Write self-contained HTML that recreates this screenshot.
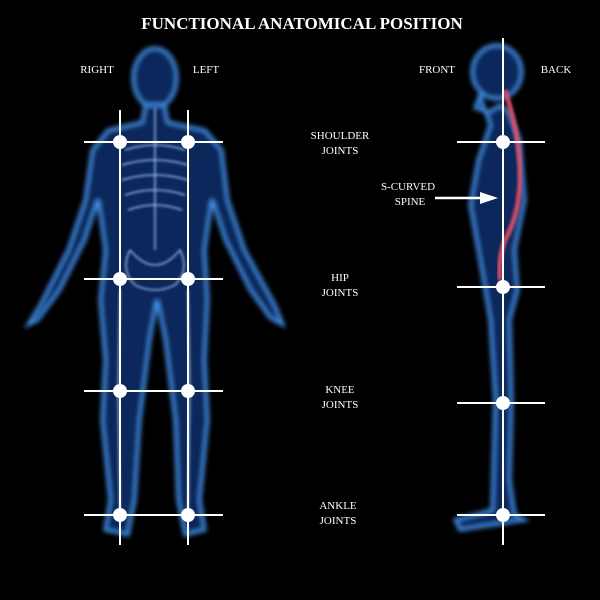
<!DOCTYPE html>
<html><head><style>
html,body{margin:0;padding:0;background:#000;}
svg{display:block}
text{font-family:"Liberation Serif",serif;fill:#fff;}
</style></head><body>
<svg width="600" height="600" viewBox="0 0 600 600">
<defs>
<filter id="g" x="-20%" y="-20%" width="140%" height="140%"><feGaussianBlur stdDeviation="2.5"/></filter>
<filter id="g2"><feGaussianBlur stdDeviation="1.2"/></filter>
</defs>
<rect width="600" height="600" fill="#000"/>
<!-- front body -->
<g filter="url(#g)" fill="#082c60" stroke="#4a9cff" stroke-width="3" opacity="0.95">
<ellipse cx="155" cy="78" rx="22" ry="30"/>
<path d="M145 105 L165 105 L168 122 L205 130 L222 150 L228 200 L245 250 L275 305 L283 325 L270 318 L250 290 L225 240 L212 200 L205 250 L208 300 L205 360 L208 420 L200 500 L205 530 L185 535 L178 500 L175 420 L165 340 L157 300 L150 340 L140 420 L135 500 L128 535 L105 530 L110 500 L102 420 L105 360 L100 300 L105 250 L98 200 L85 240 L60 290 L38 320 L28 325 L40 305 L68 250 L85 200 L92 150 L108 130 L142 122 Z"/>
</g>
<g filter="url(#g2)" fill="none" stroke="#a8d4ff" stroke-width="1.5" opacity="0.85">
<path d="M155 108 L155 250"/>
<path d="M125 150 Q155 140 185 150 M122 165 Q155 155 188 165 M122 180 Q155 170 188 180 M125 195 Q155 185 185 195 M128 210 Q155 200 182 210"/>
<path d="M130 250 Q155 280 180 250 Q190 270 175 285 Q155 295 135 285 Q120 270 130 250"/>
<path d="M120 290 L118 390 L120 515 M188 290 L190 390 L188 515"/>
</g>
<!-- side body -->
<g filter="url(#g)" fill="#082c60" stroke="#4a9cff" stroke-width="3" opacity="0.95">
<ellipse cx="497" cy="72" rx="25" ry="27"/>
<path d="M480 95 L475 108 L488 112 L500 105 L508 110 L520 140 L525 200 L515 250 L518 290 L510 320 L512 400 L510 480 L515 515 L525 520 L460 530 L455 520 L492 510 L495 400 L490 320 L485 290 L478 250 L470 205 L478 160 L490 125 Z"/>
</g>
<g filter="url(#g2)" fill="none" stroke="#e0506a" stroke-width="5" opacity="0.9">
<path d="M505 90 Q518 130 520 165 Q522 210 505 240 Q498 260 500 280"/>
</g>
<!-- guide lines -->
<g stroke="#fff" stroke-width="2">
<line x1="120" y1="110" x2="120" y2="545"/>
<line x1="188" y1="110" x2="188" y2="545"/>
<line x1="84" y1="142" x2="223" y2="142"/>
<line x1="84" y1="279" x2="223" y2="279"/>
<line x1="84" y1="391" x2="223" y2="391"/>
<line x1="84" y1="515" x2="223" y2="515"/>
<line x1="503" y1="38" x2="503" y2="545"/>
<line x1="457" y1="142" x2="545" y2="142"/>
<line x1="457" y1="287" x2="545" y2="287"/>
<line x1="457" y1="403" x2="545" y2="403"/>
<line x1="457" y1="515" x2="545" y2="515"/>
<line x1="435" y1="198" x2="482" y2="198" stroke-width="2.5"/>
</g>
<polygon points="480,192 498,198 480,204" fill="#fff"/>
<g fill="#fff">
<circle cx="120" cy="142" r="7"/><circle cx="188" cy="142" r="7"/>
<circle cx="120" cy="279" r="7"/><circle cx="188" cy="279" r="7"/>
<circle cx="120" cy="391" r="7"/><circle cx="188" cy="391" r="7"/>
<circle cx="120" cy="515" r="7"/><circle cx="188" cy="515" r="7"/>
<circle cx="503" cy="142" r="7"/><circle cx="503" cy="287" r="7"/>
<circle cx="503" cy="403" r="7"/><circle cx="503" cy="515" r="7"/>
</g>
<text x="302" y="29" text-anchor="middle" font-size="17" font-weight="bold">FUNCTIONAL ANATOMICAL POSITION</text>
<g font-size="11" text-anchor="middle">
<text x="97" y="73">RIGHT</text>
<text x="206" y="73">LEFT</text>
<text x="437" y="73">FRONT</text>
<text x="556" y="73">BACK</text>
<text x="340" y="139">SHOULDER</text><text x="340" y="154">JOINTS</text>
<text x="408" y="190">S-CURVED</text><text x="410" y="205">SPINE</text>
<text x="340" y="281">HIP</text><text x="340" y="296">JOINTS</text>
<text x="340" y="393">KNEE</text><text x="340" y="408">JOINTS</text>
<text x="338" y="509">ANKLE</text><text x="338" y="524">JOINTS</text>
</g>
</svg>
</body></html>
